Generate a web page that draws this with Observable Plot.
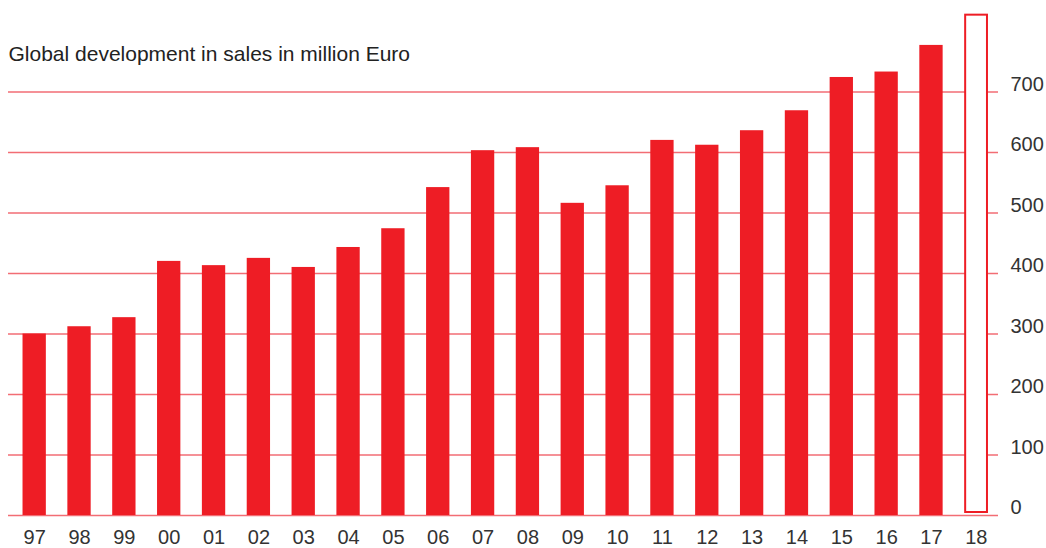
<!DOCTYPE html>
<html><head><meta charset="utf-8">
<script src="https://cdn.jsdelivr.net/npm/d3@7"></script>
<script src="https://cdn.jsdelivr.net/npm/@observablehq/plot@0.6"></script>
<style>body{margin:0;background:#fff} #chart{width:1046px;height:548px}</style>
</head><body><div id="chart"></div>
<script>
const years = ["97","98","99","00","01","02","03","04","05","06","07","08","09","10","11","12","13","14","15","16","17"];
const sales = [300,312,327,420,413,425,410,443,474,542,603,608,516,545,620,612,636,669,724,733,777];
const forecastYears = ["18"];
const forecastSales = [827];
const yTicks = [0,100,200,300,400,500,600,700];
const titleText = ["Global development in sales in million Euro"];

const red = "#ee1d25";
const grid = "#f26d74";

const actual = years.map((y, i) => ({year: y, value: sales[i]}));
const forecast = forecastYears.map((y, i) => ({year: y, value: forecastSales[i]}));

const chart = Plot.plot({
  width: 1046,
  height: 548,
  marginLeft: 1,
  marginRight: 37,
  marginTop: 31,
  marginBottom: 33,
  style: {fontFamily: "'Liberation Sans', Arial, sans-serif", fontSize: "20px", background: "#fff", color: "#333"},
  x: {domain: [...years, ...forecastYears], padding: 0.48, round: false, label: null},
  y: {domain: [0, 800], label: null},
  marks: [
    Plot.ruleY(yTicks, {stroke: grid, strokeWidth: 1.5, insetLeft: 7, insetRight: 11}),
    Plot.barY(actual, {x: "year", y: "value", fill: red}),
    Plot.barY(forecast, {x: "year", y: "value", fill: "#fff", stroke: red, strokeWidth: 2, insetLeft: 1, insetRight: 0.5, insetBottom: 3}),
    Plot.axisX({tickSize: 0, tickPadding: 14, fontSize: 20, fill: "#333", label: null}),
    Plot.axisY({anchor: "right", ticks: yTicks, tickSize: 0, tickPadding: 1, dy: -7.5, textAnchor: "start", fontSize: 20, fill: "#333", label: null}),
    Plot.text(titleText, {frameAnchor: "top-left", textAnchor: "start", lineAnchor: "middle", dx: 7, dy: 23, fontSize: 21, fill: "#222"})
  ]
});
document.getElementById("chart").appendChild(chart);
</script>
</body></html>
